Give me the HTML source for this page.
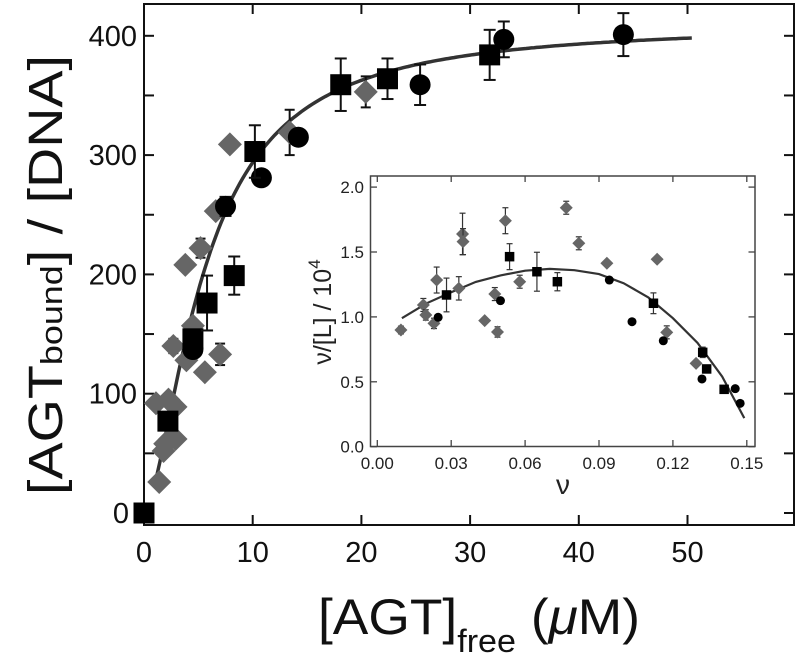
<!DOCTYPE html>
<html><head><meta charset="utf-8"><style>
html,body{margin:0;padding:0;background:#fff;}
svg{display:block;font-family:"Liberation Sans",Arial,sans-serif;}
</style></head><body>
<svg id="chart" width="800" height="662" viewBox="0 0 800 662">
<g id="main"></g>
<g id="inset"></g>
</svg>
<script>
// ---- main plot data ----
const diamX = [1.4,1.1,2.25,2.9,1.8,2.4,2.9,1.95,2.7,3.9,4.5,5.6,7.0,3.8,5.2,6.6,7.9,13.4,20.4];
const diamY = [26,92,95,89,52,62,62,58,140,128,157,118,133,208,222,253,309,319,353];
const diamE = [0,0,0,0,0,0,0,0,6,0,0,0,9,0,8,0,0,19,13];
const sqX = [0,2.2,4.5,5.8,8.3,10.2,18.1,22.4,31.8];
const sqY = [0,77,146,176,199,303,359,364,384];
const sqE = [0,0,0,23,16,22,22,17,21];
const ciX = [4.5,7.5,10.8,14.2,25.4,33.1,44.1];
const ciY = [137,257,281,315,359,397,401];
const ciE = [0,8,0,0,17,15,18];
const fitParams = [410,5.6,1.6]; // Bmax, K, n
const fitRange = [1.2,50.4];
const xTicks = [0,10,20,30,40,50];
const yTicks = [0,100,200,300,400];
// ---- inset data ----
const iDiamX = [.0096,.0187,.0197,.0230,.0241,.0331,.0346,.0348,.0436,.0477,.0488,.052,.0578,.0767,.0818,.0932,.1136,.1175,.1294];
const iDiamY = [.899,1.092,1.015,.95,1.284,1.22,1.639,1.58,.971,1.176,.884,1.741,1.271,1.841,1.567,1.413,1.444,.881,.642];
const iDiamE = [.03,.05,.04,.04,.1,.09,.16,.1,0,.05,.04,.1,.05,.05,.05,0,0,.05,0];
const iSqX = [.0281,.0537,.0648,.0731,.1121,.1321,.1337,.1408];
const iSqY = [1.169,1.464,1.348,1.271,1.105,.727,.599,.442];
const iSqE = [.13,.1,.15,.07,.08,.04,0,0];
const iCiX = [.0247,.05,.0942,.1034,.1161,.1318,.1453,.1473];
const iCiY = [.997,1.125,1.284,.963,.816,.522,.447,.334];
const iFitX = [.01,.02,.03,.04,.05,.06,.07,.08,.09,.10,.11,.12,.13,.14,.149];
const iFitY = [.99,1.105,1.19,1.27,1.32,1.356,1.37,1.36,1.33,1.26,1.15,.99,.80,.54,.22];
const ixTicks = [0,.03,.06,.09,.12,.15];
const iyTicks = [0,.5,1,1.5,2];

const NS="http://www.w3.org/2000/svg";
function mk(p,t,a){const e=document.createElementNS(NS,t);for(const k in a)e.setAttribute(k,a[k]);p.appendChild(e);return e;}
const X=v=>144+v*10.87, Y=v=>513-v*1.193;
const IX=v=>377.3+v/0.03*73.9, IY=v=>446.7-v*129.8;
const main=document.getElementById('main'), inset=document.getElementById('inset');

let fr=mk(main,'rect',{x:144,y:4,width:650,height:521,fill:'none',stroke:'#111','stroke-width':2});


xTicks.forEach(t=>{
  mk(main,'line',{x1:X(t),x2:X(t),y1:525,y2:515,stroke:'#111','stroke-width':2});
  mk(main,'line',{x1:X(t),x2:X(t),y1:4,y2:14,stroke:'#111','stroke-width':2});
  const l=mk(main,'text',{x:X(t),y:562,'font-size':29,'text-anchor':'middle',fill:'#111'});
  l.textContent=t;
  
  
});
for(let v=0;v<=400;v+=50){
  mk(main,'line',{x1:144,x2:154,y1:Y(v),y2:Y(v),stroke:'#111','stroke-width':2});
  mk(main,'line',{x1:794,x2:784,y1:Y(v),y2:Y(v),stroke:'#111','stroke-width':2});
}
yTicks.forEach(t=>{
  const l=mk(main,'text',{x:t===0?129:137,y:Y(t)+10,'font-size':29,'text-anchor':'end',fill:'#111'});
  l.textContent=t;
  
  
});
let yt=mk(main,'text',{transform:'translate(62,275) rotate(-90)','font-size':48,'text-anchor':'middle',fill:'#111',textLength:440,lengthAdjust:'spacingAndGlyphs'});
yt.innerHTML='[AGT<tspan font-size="31">bound</tspan>] / [DNA]';


let xt=mk(main,'text',{x:318,y:634,'font-size':50,fill:'#111',textLength:322,lengthAdjust:'spacingAndGlyphs'});
xt.innerHTML='[AGT]<tspan font-size="32" dy="18">free</tspan><tspan dy="-18"> (</tspan><tspan font-style="italic">μ</tspan>M)';



let d='';
for(let i=0;i<=200;i++){const x=fitRange[0]+(fitRange[1]-fitRange[0])*i/200;
  const y=fitParams[0]*Math.pow(x,fitParams[2])/(Math.pow(fitParams[1],fitParams[2])+Math.pow(x,fitParams[2]));
  d+=(i?'L':'M')+X(x).toFixed(1)+' '+Y(y).toFixed(1);}
let fc=mk(main,'path',{d:d,fill:'none',stroke:'#333','stroke-width':3.5});



function err(g,cx,cy,e,sc,w,col,sw){ if(!e)return;
  const y1=sc(cy+e),y2=sc(cy-e);
  mk(g,'line',{x1:cx,x2:cx,y1:y1,y2:y2,stroke:col,'stroke-width':sw});
  mk(g,'line',{x1:cx-w,x2:cx+w,y1:y1,y2:y1,stroke:col,'stroke-width':sw});
  mk(g,'line',{x1:cx-w,x2:cx+w,y1:y2,y2:y2,stroke:col,'stroke-width':sw});
}
function diamond(g,cx,cy,r,col,name){const e=mk(g,'polygon',{points:`${cx},${cy-r} ${cx+r},${cy} ${cx},${cy+r} ${cx-r},${cy}`,fill:col});
  
  }
function square(g,cx,cy,s,name){const e=mk(g,'rect',{x:cx-s/2,y:cy-s/2,width:s,height:s,fill:'#000'});
  
  }
function circle(g,cx,cy,r,name){const e=mk(g,'circle',{cx:cx,cy:cy,r:r,fill:'#000'});
  
  }

diamX.forEach((x,i)=>{err(main,X(x),diamY[i],diamE[i],Y,5,'#111',2);diamond(main,X(x),Y(diamY[i]),12,'#666','diamond-point');});
ciX.forEach((x,i)=>{err(main,X(x),ciY[i],ciE[i],Y,6,'#111',2);circle(main,X(x),Y(ciY[i]),10.5,'circle-point');});
sqX.forEach((x,i)=>{err(main,X(x),sqY[i],sqE[i],Y,6,'#111',2);square(main,X(x),Y(sqY[i]),21,'square-point');});

let ifr=mk(inset,'rect',{x:370.5,y:176,width:384.5,height:270.5,fill:'#fff',stroke:'#444','stroke-width':1.5});


ixTicks.forEach(t=>{
  mk(inset,'line',{x1:IX(t),x2:IX(t),y1:446.5,y2:440,stroke:'#444','stroke-width':1.3});
  mk(inset,'line',{x1:IX(t),x2:IX(t),y1:176,y2:182,stroke:'#444','stroke-width':1.3});
  const l=mk(inset,'text',{x:IX(t),y:469,'font-size':17,'text-anchor':'middle',fill:'#222'});
  l.textContent=t.toFixed(2);
  
  
});
iyTicks.forEach(t=>{
  mk(inset,'line',{x1:370.5,x2:377,y1:IY(t),y2:IY(t),stroke:'#444','stroke-width':1.3});
  mk(inset,'line',{x1:755,x2:748.5,y1:IY(t),y2:IY(t),stroke:'#444','stroke-width':1.3});
  const l=mk(inset,'text',{x:364,y:IY(t)+6,'font-size':17,'text-anchor':'end',fill:'#222'});
  l.textContent=t.toFixed(1);
  
  
});
let ixt=mk(inset,'text',{x:563,y:494,'font-size':28,'text-anchor':'middle',fill:'#222'});
ixt.textContent='ν';


let iyt=mk(inset,'text',{transform:'translate(331,312) rotate(-90)','font-size':25,'text-anchor':'middle',fill:'#222'});
iyt.innerHTML='ν/[L] / 10<tspan font-size="17" dy="-11">4</tspan>';



let id='';iFitX.forEach((x,i)=>{id+=(i?'L':'M')+IX(x).toFixed(1)+' '+IY(iFitY[i]).toFixed(1);});
let ifc=mk(inset,'path',{d:id,fill:'none',stroke:'#333','stroke-width':2.2});



iDiamX.forEach((x,i)=>{err(inset,IX(x),iDiamY[i],iDiamE[i],IY,3,'#333',1.2);diamond(inset,IX(x),IY(iDiamY[i]),6.5,'#666','inset-diamond-point');});
iCiX.forEach((x,i)=>{circle(inset,IX(x),IY(iCiY[i]),4.5,'inset-circle-point');});
iSqX.forEach((x,i)=>{err(inset,IX(x),iSqY[i],iSqE[i],IY,3,'#333',1.2);square(inset,IX(x),IY(iSqY[i]),9.5,'inset-square-point');});
</script>
</body></html>
